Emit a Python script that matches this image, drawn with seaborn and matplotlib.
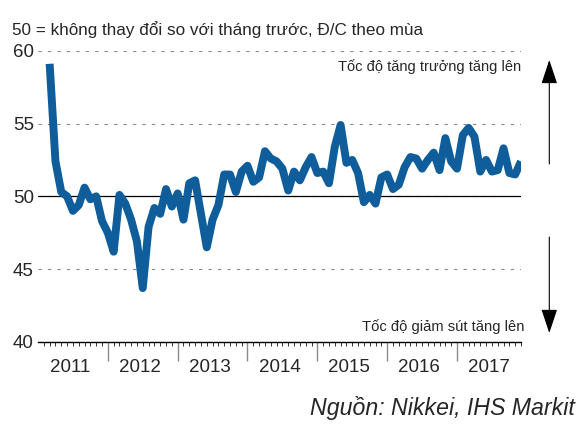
import numpy as np
import pandas as pd
import matplotlib
matplotlib.use("Agg")
import matplotlib.pyplot as plt
import matplotlib.transforms as mtransforms
import seaborn as sns

# PMI theo tháng (2011 bắt đầu từ tháng 3)
years = [2011, 2012, 2013, 2014, 2015, 2016, 2017]
first_month = [3, 1, 1, 1, 1, 1, 1]
pmi_2011 = [59.1, 52.4, 50.3, 50.0, 49.0, 49.4, 50.6, 49.8, 50.0, 48.3]
pmi_2012 = [47.5, 46.2, 50.1, 49.5, 48.4, 46.9, 43.7, 47.9, 49.2, 48.8, 50.5, 49.3]
pmi_2013 = [50.2, 48.4, 50.9, 51.1, 48.8, 46.5, 48.4, 49.4, 51.5, 51.5, 50.3, 51.7]
pmi_2014 = [52.1, 51.0, 51.3, 53.1, 52.6, 52.4, 51.9, 50.4, 51.7, 51.1, 52.0, 52.7]
pmi_2015 = [51.6, 51.7, 50.9, 53.4, 54.9, 52.3, 52.5, 51.6, 49.6, 50.1, 49.5, 51.3]
pmi_2016 = [51.5, 50.5, 50.8, 52.0, 52.7, 52.6, 51.9, 52.5, 53.0, 51.8, 54.0, 52.4]
pmi_2017 = [51.9, 54.2, 54.7, 54.1, 51.7, 52.5, 51.7, 51.8, 53.3, 51.6, 51.5, 52.4]
year_labels = ['2011', '2012', '2013', '2014', '2015', '2016', '2017']
y_ticks = [40, 45, 50, 55, 60]

title_txt = '50 = không thay đổi so với tháng trước, Đ/C theo mùa'
up_txt = 'Tốc độ tăng trưởng tăng lên'
down_txt = 'Tốc độ giảm sút tăng lên'
source_txt = 'Nguồn: Nikkei, IHS Markit'

LINE_COLOR = '#0f5e9b'

# gom dữ liệu thành bảng, trục x = số tháng kể từ 01/2011
rows = []
for yr, m0, vals in zip(years, first_month,
                        [pmi_2011, pmi_2012, pmi_2013, pmi_2014, pmi_2015, pmi_2016, pmi_2017]):
    for i, v in enumerate(vals):
        rows.append({'year': yr, 'month': m0 + i, 'pmi': v})
df = pd.DataFrame(rows)
df['m'] = (df['year'] - 2011) * 12 + (df['month'] - 1)

sns.set_style('white')
plt.rcParams['font.family'] = ['Liberation Sans', 'DejaVu Sans']

fig = plt.figure(figsize=(5.87, 4.29), dpi=100)
ax = fig.add_axes([38 / 587, 87 / 429, 483 / 587, 291.3 / 429])

ax.set_ylim(40, 60)
ax.set_xlim(0, 83)
ax.set_yticks(y_ticks)
ax.grid(axis='y', color='#8a8a8a', linestyle=(0, (3, 5.5)), linewidth=0.8)
ax.grid(axis='x', visible=False)
ax.axhline(50, color='black', linewidth=0.9, zorder=2)

sns.lineplot(data=df, x='m', y='pmi', color=LINE_COLOR, linewidth=5.7, ax=ax,
             solid_joinstyle='round', solid_capstyle='butt', zorder=3)

for s in ['top', 'right', 'left']:
    ax.spines[s].set_visible(False)
ax.spines['bottom'].set_color('black')
ax.spines['bottom'].set_linewidth(1.0)

ax.set_xlabel('')
ax.set_ylabel('')
ax.tick_params(axis='y', length=0, pad=3, labelsize=13.5)

# vạch năm (dài, xám) và vạch tháng (ngắn)
ax.set_xticks([12 * k for k in range(1, 7)])
ax.set_xticklabels([])
ax.set_xticks([m for m in range(1, 84) if m % 12 != 0], minor=True)
ax.tick_params(axis='x', which='both', bottom=True, direction='out')
ax.tick_params(axis='x', which='major', length=14, width=1.0, color='#8a8a8a')
ax.tick_params(axis='x', which='minor', length=3, width=0.7, color='#333333')

trans = mtransforms.blended_transform_factory(ax.transData, ax.transAxes)
for k, lab in enumerate(year_labels):
    ax.text(12 * k + 5.5, -0.086, lab, transform=trans, ha='center', va='center', fontsize=13.5)

ax.text(1.0, 0.945, up_txt, transform=ax.transAxes, ha='right', va='center', fontsize=10.5)
ax.text(1.008, 0.052, down_txt, transform=ax.transAxes, ha='right', va='center', fontsize=10.6)

fig.text(12 / 587, 1 - 30 / 429, title_txt, ha='left', va='center', fontsize=12.3)
fig.text(575 / 587, 1 - 408 / 429, source_txt, ha='right', va='center', fontsize=16.7, style='italic')

# mũi tên bên phải
arrow_x = 549.3 / 587
head = dict(arrowstyle='-|>,head_length=0.75,head_width=0.25', color='black', lw=0.8,
            mutation_scale=20, shrinkA=0, shrinkB=0)
ax.annotate('', xy=(arrow_x, 1 - 60 / 429), xytext=(arrow_x, 1 - 164 / 429),
            xycoords='figure fraction', textcoords='figure fraction', arrowprops=head)
ax.annotate('', xy=(arrow_x, 1 - 333 / 429), xytext=(arrow_x, 1 - 237 / 429),
            xycoords='figure fraction', textcoords='figure fraction', arrowprops=head)

fig.savefig('out.png', dpi=100)
